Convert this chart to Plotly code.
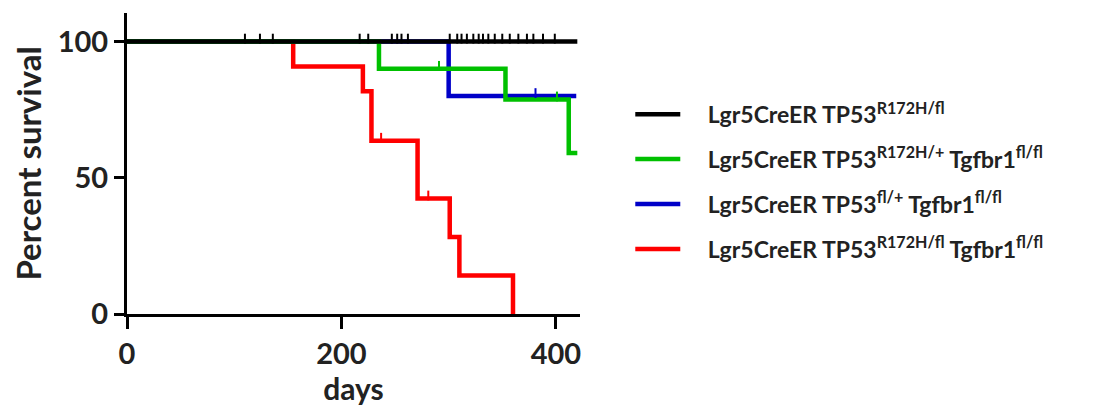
import plotly.graph_objects as go

# ---- data ----
black_t = [0, 420]
black_s = [100, 100]
black_cens = [110, 124, 136, 217, 225, 247, 252, 256, 262, 301, 308, 312, 317, 323,
              328, 332, 337, 343, 350, 357, 365, 373, 379, 388, 399]

green_t = [0, 235, 353, 412, 420]
green_s = [100, 90, 78.75, 59.06, 59.06]
green_cens = [291, 401]

blue_t = [0, 300, 419]
blue_s = [100, 80, 80]
blue_cens = [381]

red_t = [0, 155, 220, 228, 271, 301, 310, 360]
red_s = [100, 90.9, 81.8, 63.6, 42.4, 28.3, 14.1, 0]
red_cens = [237, 281]

names = [
    "Lgr5CreER TP53<sup>R172H/fl</sup>",
    "Lgr5CreER TP53<sup>R172H/+</sup> Tgfbr1<sup>fl/fl</sup>",
    "Lgr5CreER TP53<sup>fl/+</sup> Tgfbr1<sup>fl/fl</sup>",
    "Lgr5CreER TP53<sup>R172H/fl</sup> Tgfbr1<sup>fl/fl</sup>",
]
colors = ["#000000", "#00c000", "#0000c8", "#ff0000"]

x_ticks = [0, 200, 400]
y_ticks = [0, 50, 100]

Y_MAX = 110.5
TICK_LIFT = 1.1  # censor ticks sit on top of the line (in y units)


def surv_at(t_list, s_list, t):
    val = s_list[0]
    for tt, ss in zip(t_list, s_list):
        if tt <= t:
            val = ss
    return val


series = [
    (black_t, black_s, black_cens),
    (green_t, green_s, green_cens),
    (blue_t, blue_s, blue_cens),
    (red_t, red_s, red_cens),
]

FONT = "Lato"
TXT = "#222222"
fig = go.Figure()

draw_order = [3, 2, 1, 0]
for i in draw_order:
    t, s, c = series[i]
    fig.add_trace(go.Scatter(
        x=t, y=s, mode="lines", line=dict(color=colors[i], width=4.5, shape="hv"),
        name="&nbsp;&nbsp;&nbsp;&nbsp;" + names[i], legendgroup=f"g{i}",
        legendrank=i + 1, showlegend=True, hoverinfo="skip",
    ))
for i in draw_order:
    t, s, c = series[i]
    fig.add_trace(go.Scatter(
        x=c, y=[surv_at(t, s, v) for v in c], mode="markers", yaxis="y2",
        marker=dict(symbol="line-ns", size=7, line=dict(color=colors[i], width=2)),
        legendgroup=f"g{i}", showlegend=False, hoverinfo="skip",
    ))

fig.update_layout(
    width=1094, height=414,
    margin=dict(l=119, r=522, t=5, b=108),
    paper_bgcolor="white", plot_bgcolor="white",
    font=dict(family=FONT, size=23, color=TXT, weight="bold"),
    showlegend=True,
    legend=dict(
        x=1.111, xanchor="left", y=0.735, yanchor="top",
        font=dict(family=FONT, size=23, color=TXT, weight="bold"),
        tracegroupgap=12, itemwidth=45, bgcolor="rgba(0,0,0,0)",
    ),
)
fig.update_xaxes(
    range=[0, 422.5], tickvals=x_ticks, ticktext=[str(v) for v in x_ticks],
    showline=True, linecolor="black", linewidth=3, ticks="outside", ticklen=12,
    tickwidth=3, tickcolor="black", showgrid=False, zeroline=False, automargin=False,
    title=dict(text="days", standoff=6, font=dict(family=FONT, size=30, weight="bold", color=TXT)),
    tickfont=dict(family=FONT, size=29, weight="bold", color=TXT),
)
fig.update_layout(
    yaxis=dict(
        range=[0, Y_MAX], tickvals=y_ticks, ticktext=[str(v) for v in y_ticks],
        showline=True, linecolor="black", linewidth=3, ticks="outside", ticklen=10,
        tickwidth=3, tickcolor="black", showgrid=False, zeroline=False, automargin=False,
        title=dict(text="Percent survival", standoff=10,
                   font=dict(family=FONT, size=33, weight="bold", color=TXT)),
        tickfont=dict(family=FONT, size=29, weight="bold", color=TXT),
    ),
    yaxis2=dict(overlaying="y", range=[-TICK_LIFT, Y_MAX - TICK_LIFT], visible=False,
                showgrid=False, zeroline=False),
)

fig.write_html("out.html")
